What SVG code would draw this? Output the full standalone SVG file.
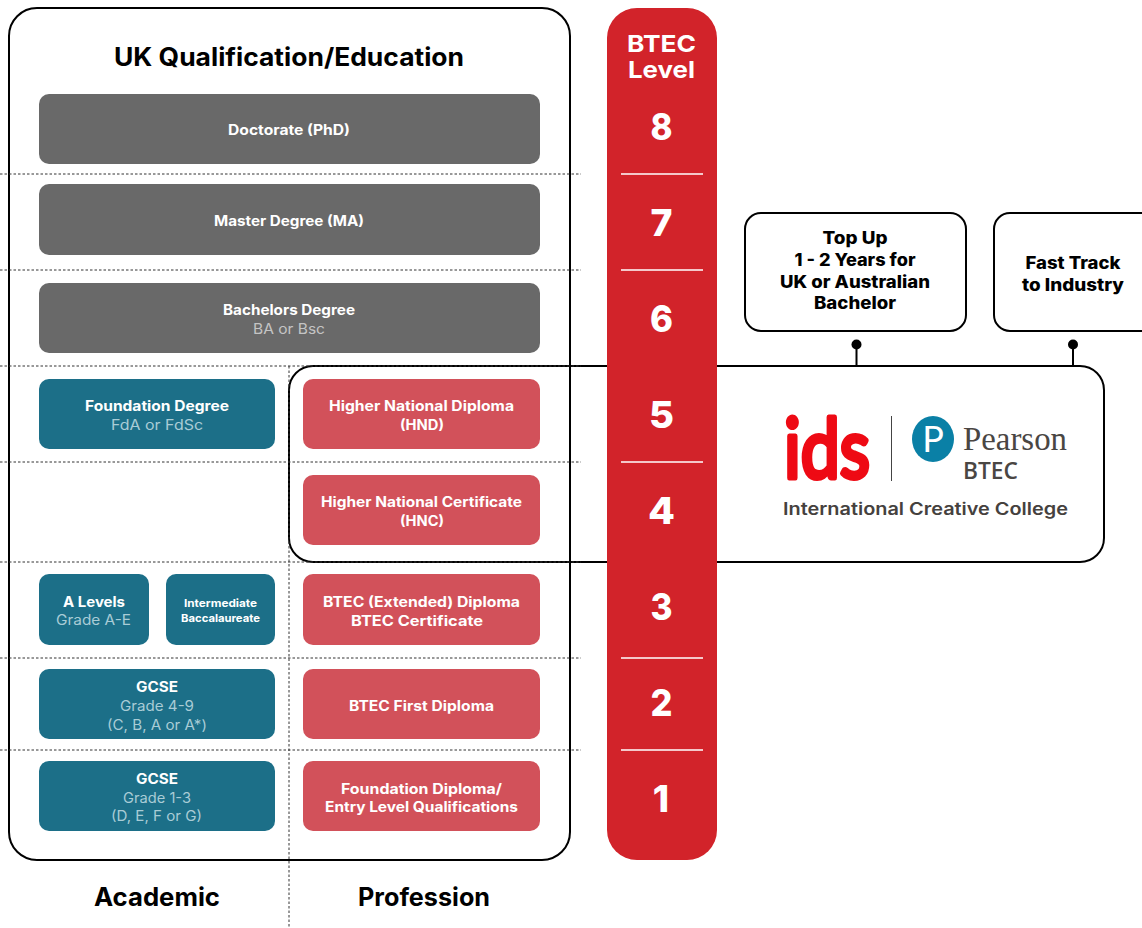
<svg xmlns="http://www.w3.org/2000/svg" width="1142" height="928" viewBox="0 0 1142 928">
<style>
text{font-family:Inter,"Liberation Sans",sans-serif;text-anchor:middle}
.b{font-weight:700;font-size:14px;fill:#fff}
.r{font-weight:400;font-size:14px}
.rg{fill:#c4c4c4}.rt{fill:#a9ccd6}
.s{font-weight:700;font-size:11px;fill:#fff}
.h{font-weight:700;font-size:25px;fill:#000}
.k{font-weight:800;font-size:17px;fill:#000}
.w{font-weight:700;font-size:23.500px;fill:#fff}
.n{font-weight:800;font-size:37px;fill:#fff}
.gray{fill:#696969}.teal{fill:#1c6f88}.pink{fill:#d2515a}
.line{fill:none;stroke:#000;stroke-width:2}
.dash{fill:none;stroke:#333;stroke-width:1;stroke-dasharray:2.500 2}
.sep{fill:none;stroke:#fff;stroke-width:1.600}
</style>
<rect width="1142" height="928" fill="#fff"/>
<g id="outer-panel"><rect class="line" x="9" y="8" width="561" height="852" rx="28"/></g>
<g id="link-box"><rect class="line" x="289" y="366" width="815" height="196" rx="24"/></g>
<g id="connectors">
<path class="dash" d="M0 174H581M0 270H581M0 366H581M0 462H581M0 562H581M0 658H581M0 750H581M289 366V928"/>
<path class="line" d="M856.500 344V366M1073 344V366"/>
<circle cx="856.500" cy="344.500" r="5"/><circle cx="1073" cy="344.500" r="5"/>
</g>
<text class="h" x="289" y="66" textLength="350" lengthAdjust="spacingAndGlyphs">UK Qualification/Education</text>
<text class="h" x="157" y="906" textLength="126" lengthAdjust="spacingAndGlyphs">Academic</text>
<text class="h" x="424" y="906" textLength="132" lengthAdjust="spacingAndGlyphs">Profession</text>
<g id="phd"><rect class="gray" x="39" y="94" width="501" height="70" rx="10"/><text class="b" x="289" y="135" textLength="122" lengthAdjust="spacingAndGlyphs">Doctorate (PhD)</text></g>
<g id="ma"><rect class="gray" x="39" y="184" width="501" height="71" rx="10"/><text class="b" x="289" y="226" textLength="150" lengthAdjust="spacingAndGlyphs">Master Degree (MA)</text></g>
<g id="ba"><rect class="gray" x="39" y="283" width="501" height="70" rx="10"/><text class="b" x="289" y="315" textLength="132" lengthAdjust="spacingAndGlyphs">Bachelors Degree</text><text class="r rg" x="289" y="334" textLength="72" lengthAdjust="spacingAndGlyphs">BA or Bsc</text></g>
<g id="fd"><rect class="teal" x="39" y="379" width="236" height="70" rx="10"/><text class="b" x="157" y="411" textLength="144" lengthAdjust="spacingAndGlyphs">Foundation Degree</text><text class="r rt" x="157" y="430" textLength="92" lengthAdjust="spacingAndGlyphs">FdA or FdSc</text></g>
<g id="hnd"><rect class="pink" x="303" y="379" width="237" height="70" rx="10"/><text class="b" x="421.500" y="411" textLength="185" lengthAdjust="spacingAndGlyphs">Higher National Diploma</text><text class="b" x="422" y="430" textLength="44" lengthAdjust="spacingAndGlyphs">(HND)</text></g>
<g id="hnc"><rect class="pink" x="303" y="475" width="237" height="70" rx="10"/><text class="b" x="421.500" y="507" textLength="201" lengthAdjust="spacingAndGlyphs">Higher National Certificate</text><text class="b" x="422" y="526" textLength="44" lengthAdjust="spacingAndGlyphs">(HNC)</text></g>
<g id="alevels"><rect class="teal" x="39" y="574" width="110" height="71" rx="10"/><text class="b" x="94" y="607" textLength="62" lengthAdjust="spacingAndGlyphs">A Levels</text><text class="r rt" x="93.500" y="625" textLength="75" lengthAdjust="spacingAndGlyphs">Grade A-E</text></g>
<g id="ib"><rect class="teal" x="166" y="574" width="109" height="71" rx="10"/><text class="s" x="220.500" y="607" textLength="73" lengthAdjust="spacingAndGlyphs">Intermediate</text><text class="s" x="220.500" y="622" textLength="79" lengthAdjust="spacingAndGlyphs">Baccalaureate</text></g>
<g id="btec-ext"><rect class="pink" x="303" y="574" width="237" height="71" rx="10"/><text class="b" x="421.500" y="607" textLength="197" lengthAdjust="spacingAndGlyphs">BTEC (Extended) Diploma</text><text class="b" x="417" y="626" textLength="132" lengthAdjust="spacingAndGlyphs">BTEC Certificate</text></g>
<g id="gcse-high"><rect class="teal" x="39" y="669" width="236" height="70" rx="10"/><text class="b" x="157" y="692" textLength="42" lengthAdjust="spacingAndGlyphs">GCSE</text><text class="r rt" x="157" y="711" textLength="74" lengthAdjust="spacingAndGlyphs">Grade 4-9</text><text class="r rt" x="157" y="730" textLength="100" lengthAdjust="spacingAndGlyphs">(C, B, A or A*)</text></g>
<g id="btec-first"><rect class="pink" x="303" y="669" width="237" height="70" rx="10"/><text class="b" x="421.500" y="711" textLength="145" lengthAdjust="spacingAndGlyphs">BTEC First Diploma</text></g>
<g id="gcse-low"><rect class="teal" x="39" y="761" width="236" height="70" rx="10"/><text class="b" x="157" y="784" textLength="42" lengthAdjust="spacingAndGlyphs">GCSE</text><text class="r rt" x="157" y="803" textLength="68" lengthAdjust="spacingAndGlyphs">Grade 1-3</text><text class="r rt" x="156.500" y="821" textLength="91" lengthAdjust="spacingAndGlyphs">(D, E, F or G)</text></g>
<g id="foundation"><rect class="pink" x="303" y="761" width="237" height="70" rx="10"/><text class="b" x="421.500" y="794" textLength="161" lengthAdjust="spacingAndGlyphs">Foundation Diploma/</text><text class="b" x="421.500" y="812" textLength="193" lengthAdjust="spacingAndGlyphs">Entry Level Qualifications</text></g>
<g id="btec-level">
<rect x="607" y="8" width="110" height="852" rx="30" fill="#d2232a"/>
<text class="w" x="661.500" y="52" textLength="69" lengthAdjust="spacingAndGlyphs">BTEC</text>
<text class="w" x="661.500" y="78" textLength="67" lengthAdjust="spacingAndGlyphs">Level</text>
<path class="sep" d="M621 174H703M621 270H703M621 462H703M621 658H703M621 750H703"/>
<text class="n" x="661.500" y="140" textLength="22" lengthAdjust="spacingAndGlyphs">8</text><text class="n" x="661.500" y="236" textLength="22" lengthAdjust="spacingAndGlyphs">7</text><text class="n" x="661.500" y="332" textLength="23" lengthAdjust="spacingAndGlyphs">6</text><text class="n" x="661.500" y="428" textLength="25" lengthAdjust="spacingAndGlyphs">5</text><text class="n" x="661.500" y="524" textLength="27" lengthAdjust="spacingAndGlyphs">4</text><text class="n" x="661.500" y="620" textLength="22" lengthAdjust="spacingAndGlyphs">3</text><text class="n" x="661.500" y="716" textLength="22" lengthAdjust="spacingAndGlyphs">2</text><text class="n" x="661" y="812">1</text>
</g>
<g id="top-up"><rect class="line" x="745" y="213" width="221" height="118" rx="16"/>
<text class="k" x="855" y="244" textLength="65" lengthAdjust="spacingAndGlyphs">Top Up</text>
<text class="k" x="855" y="266" textLength="121" lengthAdjust="spacingAndGlyphs">1 - 2 Years for</text>
<text class="k" x="855" y="288" textLength="150" lengthAdjust="spacingAndGlyphs">UK or Australian</text>
<text class="k" x="855" y="309" textLength="82" lengthAdjust="spacingAndGlyphs">Bachelor</text></g>
<g id="fast-track"><rect class="line" x="994" y="213" width="170" height="118" rx="16"/>
<text class="k" x="1073" y="269" textLength="95" lengthAdjust="spacingAndGlyphs">Fast Track</text>
<text class="k" x="1073" y="291" textLength="102" lengthAdjust="spacingAndGlyphs">to Industry</text></g>
<g id="logo">
<text x="827" y="478" textLength="86" lengthAdjust="spacingAndGlyphs" style="font-family:Lato,sans-serif;font-weight:400;font-size:84px;fill:#ee0a14;stroke:#ee0a14;stroke-width:5;stroke-linejoin:round">ids</text>
<path d="M891.500 416V481" stroke="#444" stroke-width="1"/>
<ellipse cx="933" cy="439" rx="21" ry="23" fill="#0a80a6"/>
<text x="933" y="452" style="font-family:Lato,sans-serif;font-size:36px;font-weight:400;fill:#fff">P</text>
<text x="1015" y="450" textLength="104" lengthAdjust="spacingAndGlyphs" style="font-family:'Liberation Serif',serif;font-size:33px;fill:#4a4643">Pearson</text>
<text x="990.500" y="479" textLength="55" lengthAdjust="spacingAndGlyphs" style="font-family:'Open Sans',sans-serif;font-size:23px;font-weight:600;fill:#4a4643">BTEC</text>
<text x="925.500" y="515" textLength="285" lengthAdjust="spacingAndGlyphs" style="font-weight:600;font-size:17px;fill:#45413e">International Creative College</text>
</g>
</svg>
